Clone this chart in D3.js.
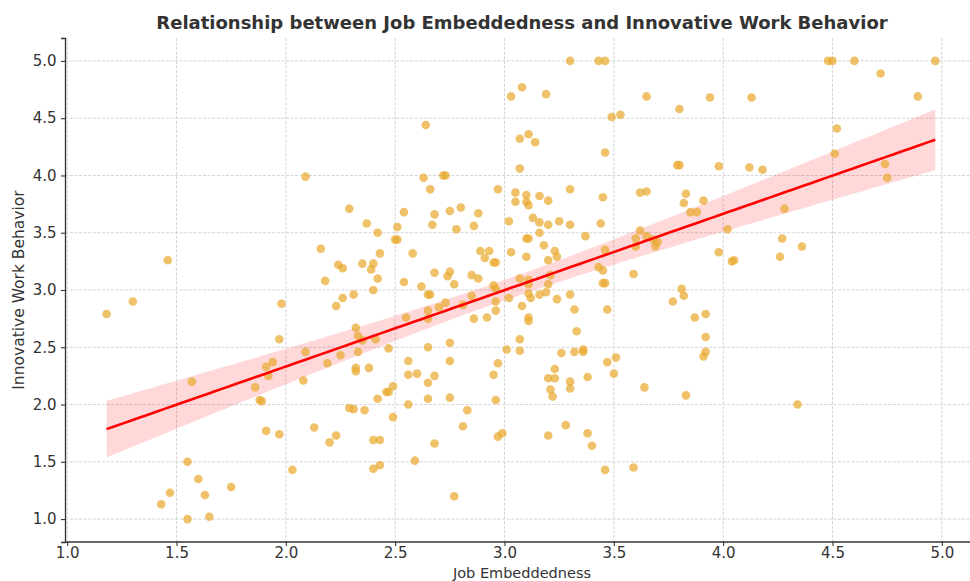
<!DOCTYPE html>
<html>
<head>
<meta charset="utf-8">
<script src="https://cdn.jsdelivr.net/npm/d3@7"></script>
<style>
  body { margin: 0; background: #fff; }
  svg { display: block; font-family: "DejaVu Sans", sans-serif; }
</style>
</head>
<body>
<svg id="chart" width="970" height="581"></svg>
<script>
// job embeddedness (x) and innovative work behavior (y)
const embeddedness = [
  3.30, 3.43, 3.46, 4.48, 4.50, 4.60, 4.97, 4.72, 4.89, 4.13, 4.52, 4.51, 4.12, 4.18, 4.74, 4.75, 4.28,
  3.08, 3.03, 3.19, 3.65, 3.80, 3.94, 3.49, 3.53, 3.07, 3.11, 3.14, 3.46, 3.07, 3.79, 3.80, 3.98,
  3.05, 3.10, 3.10, 3.16, 3.20, 3.30, 3.45, 3.62, 3.65, 3.83, 3.82, 3.91,
  2.09, 2.64, 2.63, 2.72, 2.73, 2.66, 2.97, 3.05,
  2.29, 2.54, 2.68, 2.75, 2.80, 2.88, 2.37, 2.67, 2.86, 3.02, 2.78, 2.51, 2.42, 2.50, 2.51,
  2.16, 2.43, 2.58, 2.89, 2.93, 2.91, 2.95, 2.96, 3.03, 2.24, 2.26, 2.35, 2.40, 2.39, 2.42,
  2.18, 2.54, 2.68, 2.74, 2.75, 2.77, 2.85, 2.88, 2.95, 3.07, 2.40, 2.62, 2.65, 2.66, 2.31,
  2.26, 2.23, 2.73, 2.70, 2.81, 2.85, 2.96, 3.02, 2.96, 2.96, 2.92, 2.86, 2.65, 2.65, 2.55,
  2.32, 2.33, 2.35, 2.41, 2.09, 2.25, 2.33, 2.47, 2.19, 2.32, 2.32, 2.38, 2.56, 2.65, 2.75,
  2.75, 2.97, 2.95, 3.01, 3.07, 3.07, 2.56, 2.60, 2.68,
  3.11, 3.13, 3.16, 3.20, 3.25, 3.30, 3.44, 3.10, 3.11, 3.16, 3.37, 3.18, 3.23, 3.24, 3.10,
  3.20, 3.46, 3.43, 3.45, 3.45, 3.46, 3.11, 3.11, 3.21, 3.20, 3.11, 3.12, 3.16, 3.19, 3.30,
  3.24, 3.08, 3.32, 3.47, 3.11, 3.11, 3.33, 3.26, 3.32, 3.36, 3.36, 3.47, 3.51, 3.23, 3.50,
  3.38, 3.20, 3.23,
  3.62, 3.60, 3.65, 3.68, 3.69, 3.70, 3.60, 3.85, 3.88, 4.02, 3.98, 4.04, 4.05, 3.59, 3.81,
  3.82, 3.77, 3.87, 3.92, 3.92, 3.92, 3.91, 4.27, 4.36, 4.26,
  1.18, 1.30, 1.46, 1.98, 1.97, 1.91, 1.94, 1.92,
  1.57, 1.86, 1.88, 1.89, 1.91, 1.97, 1.55, 1.60, 1.47, 1.43, 1.63, 1.75, 1.55, 1.65, 2.03,
  2.08, 2.65, 2.42, 2.46, 2.47, 2.49, 2.65, 2.56, 2.75, 2.96, 2.29, 2.31, 2.36, 2.49, 2.83,
  2.13, 2.23, 2.20, 2.40, 2.43, 2.81, 2.68, 2.97, 2.99, 2.40, 2.43, 2.59, 2.77,
  3.30, 3.21, 3.30, 3.22, 3.64, 3.83, 3.28, 3.20, 3.38, 3.40, 3.46, 3.59, 4.34
];
const innovation = [
  5.00, 5.00, 5.00, 5.00, 5.00, 5.00, 5.00, 4.89, 4.69, 4.68, 4.41, 4.19, 4.07, 4.05, 4.10, 3.98, 3.71,
  4.77, 4.69, 4.71, 4.69, 4.58, 4.68, 4.51, 4.53, 4.32, 4.36, 4.29, 4.20, 4.06, 4.09, 4.09, 4.08,
  3.77, 3.83, 3.77, 3.82, 3.78, 3.88, 3.81, 3.85, 3.86, 3.84, 3.76, 3.78,
  3.99, 4.44, 3.98, 4.00, 4.00, 3.88, 3.88, 3.85,
  3.71, 3.68, 3.66, 3.69, 3.72, 3.67, 3.58, 3.57, 3.56, 3.60, 3.53, 3.55, 3.50, 3.44, 3.44,
  3.36, 3.32, 3.32, 3.34, 3.34, 3.28, 3.24, 3.24, 3.33, 3.22, 3.19, 3.23, 3.23, 3.18, 3.10,
  3.08, 3.07, 3.15, 3.12, 3.16, 3.05, 3.13, 3.10, 3.04, 3.10, 3.00, 3.03, 2.96, 2.96, 2.96,
  2.93, 2.86, 2.89, 2.85, 2.87, 2.95, 3.01, 2.93, 2.90, 2.82, 2.76, 2.75, 2.82, 2.75, 2.76,
  2.67, 2.60, 2.56, 2.57, 2.46, 2.43, 2.46, 2.49, 2.36, 2.32, 2.29, 2.32, 2.38, 2.50, 2.54,
  2.38, 2.36, 2.26, 2.48, 2.47, 2.57, 2.26, 2.27, 2.25,
  3.74, 3.63, 3.59, 3.57, 3.60, 3.57, 3.58, 3.45, 3.45, 3.50, 3.47, 3.39, 3.34, 3.29, 3.29,
  3.26, 3.35, 3.20, 3.17, 3.06, 3.06, 3.09, 3.05, 3.13, 3.05, 2.97, 2.93, 2.96, 2.98, 2.96,
  2.92, 2.86, 2.83, 2.83, 2.76, 2.73, 2.64, 2.45, 2.46, 2.48, 2.46, 2.37, 2.41, 2.31, 2.27,
  2.24, 2.23, 2.23,
  3.52, 3.45, 3.47, 3.44, 3.38, 3.42, 3.38, 3.68, 3.68, 3.53, 3.33, 3.25, 3.26, 3.14, 3.01,
  2.95, 2.90, 2.76, 2.79, 2.59, 2.46, 2.42, 3.45, 3.38, 3.29,
  2.79, 2.90, 3.26, 2.88, 2.57, 2.33, 2.37, 2.25,
  2.20, 2.15, 2.04, 2.03, 1.77, 1.74, 1.50, 1.35, 1.23, 1.13, 1.21, 1.28, 1.00, 1.02, 1.43,
  2.21, 2.19, 2.05, 2.11, 2.11, 2.16, 2.05, 2.00, 2.06, 2.04, 1.97, 1.96, 1.95, 1.89, 1.95,
  1.80, 1.73, 1.67, 1.69, 1.69, 1.81, 1.66, 1.72, 1.75, 1.44, 1.47, 1.51, 1.20,
  2.20, 2.13, 2.14, 2.07, 2.15, 2.08, 1.82, 1.73, 1.75, 1.64, 1.43, 1.45, 2.00
];
const xTicks = [1.0, 1.5, 2.0, 2.5, 3.0, 3.5, 4.0, 4.5, 5.0];
const yTicks = [1.0, 1.5, 2.0, 2.5, 3.0, 3.5, 4.0, 4.5, 5.0];

const svg = d3.select('#chart');
const plotL = 65, plotR = 979, plotT = 38, plotB = 542;

const x = d3.scaleLinear().domain([0.99, 5.17]).range([plotL, plotR]);
const y = d3.scaleLinear().domain([0.8, 5.2]).range([plotB, plotT]);

const points = embeddedness.map((v, i) => ({ x: v, y: innovation[i] }));

// grid
svg.append('g')
  .selectAll('line')
  .data(xTicks)
  .join('line')
  .attr('x1', d => x(d)).attr('x2', d => x(d))
  .attr('y1', plotT).attr('y2', plotB)
  .attr('stroke', '#cfcfcf').attr('stroke-width', 0.9)
  .attr('stroke-dasharray', '3,1.6');
svg.append('g')
  .selectAll('line')
  .data(yTicks)
  .join('line')
  .attr('x1', plotL).attr('x2', plotR)
  .attr('y1', d => y(d)).attr('y2', d => y(d))
  .attr('stroke', '#cfcfcf').attr('stroke-width', 0.9)
  .attr('stroke-dasharray', '3,1.6');

// least squares fit with 95% confidence band
const n = points.length;
const mx = d3.mean(points, d => d.x), my = d3.mean(points, d => d.y);
const sxx = d3.sum(points, d => (d.x - mx) ** 2);
const sxy = d3.sum(points, d => (d.x - mx) * (d.y - my));
const slope = sxy / sxx, icpt = my - slope * mx;
const sres = Math.sqrt(d3.sum(points, d => (d.y - (icpt + slope * d.x)) ** 2) / (n - 2));
const [xmin, xmax] = d3.extent(embeddedness);
const grid = d3.range(0, 101).map(i => xmin + (xmax - xmin) * i / 100);
const fit = grid.map(g => {
  const yh = icpt + slope * g;
  const h = 1.97 * sres * Math.sqrt(1 / n + (g - mx) ** 2 / sxx);
  return { x: g, y: yh, lo: yh - h, hi: yh + h };
});

svg.append('path')
  .datum(fit)
  .attr('d', d3.area().x(d => x(d.x)).y0(d => y(d.lo)).y1(d => y(d.hi)))
  .attr('fill', '#ff0000').attr('fill-opacity', 0.15);

svg.append('g')
  .selectAll('circle')
  .data(points)
  .join('circle')
  .attr('cx', d => x(d.x))
  .attr('cy', d => y(d.y))
  .attr('r', 4.3)
  .attr('fill', '#e9a92f')
  .attr('fill-opacity', 0.72);

svg.append('path')
  .datum(fit)
  .attr('d', d3.line().x(d => x(d.x)).y(d => y(d.y)))
  .attr('fill', 'none').attr('stroke', '#ff0000').attr('stroke-width', 2.6);

// axes
const xAxis = svg.append('g')
  .attr('transform', `translate(0,${plotB})`)
  .call(d3.axisBottom(x).tickValues(xTicks).tickFormat(d3.format('.1f')).tickSizeOuter(0).tickSize(4));
const yAxis = svg.append('g')
  .attr('transform', `translate(${plotL},0)`)
  .call(d3.axisLeft(y).tickValues(yTicks).tickFormat(d3.format('.1f')).tickSizeOuter(0).tickSize(4));

[xAxis, yAxis].forEach(a => {
  a.select('.domain').attr('stroke', '#333').attr('stroke-width', 1.3);
  a.selectAll('.tick line').attr('stroke', '#333').attr('stroke-width', 1.1);
  a.selectAll('.tick text').attr('fill', '#333').attr('font-size', 15)
    .attr('font-family', '"DejaVu Sans", sans-serif');
});
xAxis.selectAll('.tick text').attr('y', 5).attr('dy', '0.75em');
yAxis.selectAll('.tick text').attr('dx', '-0.1em');
xAxis.select('.domain').attr('d', `M${plotL},0H${970}`);

svg.append('text')
  .attr('x', (plotL + plotR) / 2).attr('y', 29)
  .attr('text-anchor', 'middle')
  .attr('font-size', 18).attr('font-weight', 'bold').attr('fill', '#333')
  .text('Relationship between Job Embeddedness and Innovative Work Behavior');

svg.append('text')
  .attr('x', (plotL + plotR) / 2).attr('y', 578)
  .attr('text-anchor', 'middle')
  .attr('font-size', 14.5).attr('fill', '#333')
  .text('Job Embeddedness');

svg.append('text')
  .attr('transform', `translate(24,${(plotT + plotB) / 2}) rotate(-90)`)
  .attr('text-anchor', 'middle')
  .attr('font-size', 15.5).attr('fill', '#333')
  .text('Innovative Work Behavior');
</script>
</body>
</html>
